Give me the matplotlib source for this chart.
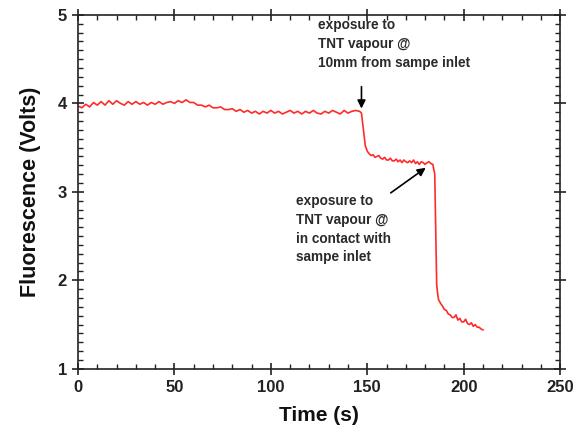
import matplotlib
matplotlib.use('Agg')
import matplotlib.pyplot as plt
from matplotlib.ticker import MultipleLocator

plt.rcParams['font.family'] = ['Liberation Sans', 'DejaVu Sans']

# fluorescence trace
time_s = [
    0, 2, 4, 6, 8, 10, 12, 14, 16, 18, 20, 22, 24, 26, 28, 30, 32, 34, 36, 38,
    40, 42, 44, 46, 48, 50, 52, 54, 56, 58, 60, 62, 64, 66, 68, 70, 72, 74, 76, 78,
    80, 82, 84, 86, 88, 90, 92, 94, 96, 98, 100, 102, 104, 106, 108, 110, 112, 114,
    116, 118, 120, 122, 124, 126, 128, 130, 132, 134, 136, 138, 140, 142, 144, 146,
    147, 148, 149, 150, 151, 152, 153, 154, 155, 156, 157, 158, 159, 160, 161, 162,
    163, 164, 165, 166, 167, 168, 169, 170, 171, 172, 173, 174, 175, 176, 177, 178,
    179, 180, 181, 182, 183, 184, 185, 185.5, 186, 186.5, 187, 188, 189, 190, 191,
    192, 193, 194, 195, 196, 197, 198, 199, 200, 201, 202, 203, 204, 205, 206, 207,
    208, 209, 210,
]
volts = [
    3.97, 3.95, 3.99, 3.96, 4.01, 3.98, 4.02, 3.98, 4.03, 3.99, 4.03, 4.00, 3.98, 4.02,
    3.99, 4.02, 3.99, 4.01, 3.98, 4.01, 3.99, 4.02, 3.99, 4.01, 4.02, 4.00, 4.03, 4.01,
    4.04, 4.01, 4.01, 3.98, 3.98, 3.96, 3.98, 3.95, 3.95, 3.96, 3.93, 3.93, 3.94, 3.91,
    3.93, 3.90, 3.92, 3.89, 3.91, 3.88, 3.91, 3.89, 3.92, 3.89, 3.91, 3.88, 3.90, 3.92,
    3.89, 3.91, 3.88, 3.91, 3.89, 3.92, 3.89, 3.88, 3.91, 3.89, 3.92, 3.90, 3.88, 3.92,
    3.89, 3.91, 3.92, 3.91,
    3.89, 3.70, 3.52, 3.46, 3.43, 3.41, 3.42, 3.39, 3.40, 3.41, 3.38, 3.37, 3.39, 3.36,
    3.36, 3.38, 3.35, 3.35, 3.37, 3.34, 3.36, 3.33, 3.36, 3.34, 3.33, 3.35, 3.33, 3.36,
    3.32, 3.34, 3.31, 3.34, 3.33, 3.31, 3.33, 3.34, 3.32, 3.31, 3.20, 2.60, 1.95, 1.85,
    1.78, 1.74, 1.71, 1.67, 1.66, 1.62, 1.61, 1.58, 1.58, 1.61, 1.55, 1.57, 1.53, 1.53,
    1.56, 1.51, 1.50, 1.52, 1.48, 1.50, 1.47, 1.47, 1.45, 1.44,
]

note_first = 'exposure to\nTNT vapour @\n10mm from sampe inlet'
note_second = 'exposure to\nTNT vapour @\nin contact with\nsampe inlet'

fig = plt.figure(figsize=(5.78, 4.38), dpi=100)
ax = fig.add_axes([0.135, 0.158, 0.834, 0.808])

ax.plot(time_s, volts, color='#ff2a2a', lw=1.2)

ax.set_xlim(0, 250)
ax.set_ylim(1, 5)
ax.xaxis.set_major_locator(MultipleLocator(50))
ax.xaxis.set_minor_locator(MultipleLocator(10))
ax.yaxis.set_major_locator(MultipleLocator(1))
ax.yaxis.set_minor_locator(MultipleLocator(0.1))
ax.tick_params(which='major', direction='inout', length=9, width=1.2,
               top=True, right=True, labelsize=12, colors='#222222')
ax.tick_params(which='minor', direction='in', length=3.5, width=1.0,
               top=True, right=True, colors='#222222')
for lbl in ax.get_xticklabels() + ax.get_yticklabels():
    lbl.set_fontweight('bold')
for sp in ax.spines.values():
    sp.set_linewidth(1.2)
    sp.set_color('#222222')

ax.set_xlabel('Time (s)', fontsize=15, fontweight='bold', labelpad=8, color='#111111')
ax.set_ylabel('Fluorescence (Volts)', fontsize=15.5, fontweight='bold', labelpad=12,
              color='#111111')

ax.text(124.5, 4.96, note_first, fontsize=9.8, fontweight='bold', color='#2a2a2a',
        va='top', ha='left', linespacing=1.45)
ax.annotate('', xy=(147, 3.91), xytext=(147, 4.22),
            arrowprops=dict(arrowstyle='-|>', color='black', lw=1.2, mutation_scale=12))

ax.text(113, 2.98, note_second, fontsize=9.8, fontweight='bold', color='#2a2a2a',
        va='top', ha='left', linespacing=1.45)
ax.annotate('', xy=(181.5, 3.29), xytext=(161, 2.97),
            arrowprops=dict(arrowstyle='-|>', color='black', lw=1.2, mutation_scale=12))

fig.savefig('out.png', dpi=100)
